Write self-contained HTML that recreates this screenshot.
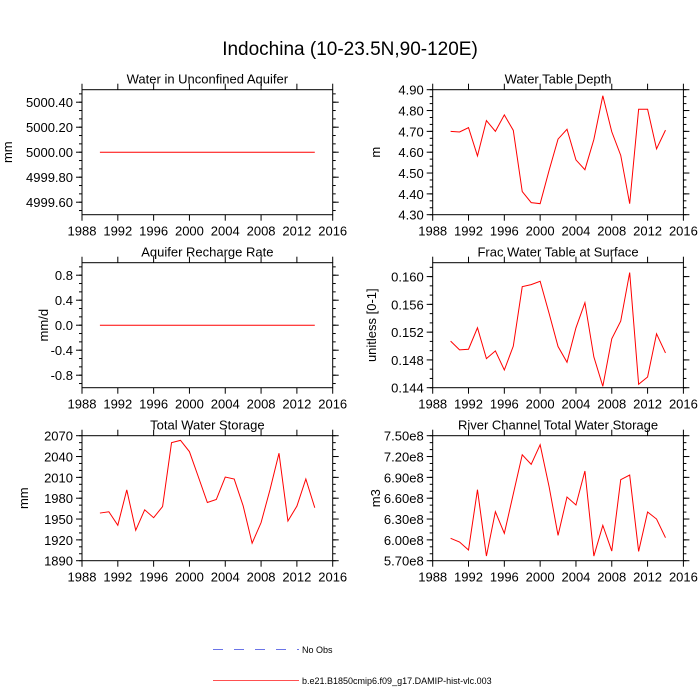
<!DOCTYPE html>
<html><head><meta charset="utf-8"><style>
html,body{margin:0;padding:0;background:#fff;}
svg{display:block;font-family:"Liberation Sans",sans-serif;}
</style></head><body>
<svg id="c" width="700" height="700" viewBox="0 0 700 700" xmlns="http://www.w3.org/2000/svg">
<text x="350" y="55" font-size="19" text-anchor="middle">Indochina (10-23.5N,90-120E)</text>
<g>
<line x1="213" y1="649.5" x2="299" y2="649.5" stroke="#6a74e8" stroke-width="1" stroke-dasharray="10,11"/>
<text x="302" y="653" font-size="9">No Obs</text>
<line x1="213" y1="680.5" x2="299" y2="680.5" stroke="#ff5050" stroke-width="1"/>
<text x="302" y="684" font-size="9">b.e21.B1850cmip6.f09_g17.DAMIP-hist-vlc.003</text>
</g>
</svg>
<script>
const years=[1990,1991,1992,1993,1994,1995,1996,1997,1998,1999,2000,2001,2002,2003,2004,2005,2006,2007,2008,2009,2010,2011,2012,2013,2014];
const xTicks=[1988,1992,1996,2000,2004,2008,2012,2016];
const aquiferValues=[5000,5000,5000,5000,5000,5000,5000,5000,5000,5000,5000,5000,5000,5000,5000,5000,5000,5000,5000,5000,5000,5000,5000,5000,5000];
const aquiferTickValues=[4999.6,4999.8,5000.0,5000.2,5000.4];
const aquiferTicks=["4999.60","4999.80","5000.00","5000.20","5000.40"];
const wtdValues=[4.70,4.697,4.718,4.582,4.752,4.70,4.779,4.705,4.411,4.358,4.353,4.513,4.663,4.71,4.563,4.516,4.661,4.871,4.698,4.585,4.353,4.806,4.806,4.616,4.706];
const wtdTickValues=[4.3,4.4,4.5,4.6,4.7,4.8,4.9];
const wtdTicks=["4.30","4.40","4.50","4.60","4.70","4.80","4.90"];
const rechargeValues=[0,0,0,0,0,0,0,0,0,0,0,0,0,0,0,0,0,0,0,0,0,0,0,0,0];
const rechargeTickValues=[-0.8,-0.4,0,0.4,0.8];
const rechargeTicks=["-0.8","-0.4","0.0","0.4","0.8"];
const fracValues=[0.1507,0.14945,0.14954,0.15263,0.14819,0.1493,0.14655,0.14998,0.15855,0.15884,0.15933,0.1547,0.14993,0.14766,0.15263,0.15624,0.14843,0.1442,0.15104,0.15359,0.16058,0.1445,0.14554,0.15176,0.14901];
const fracTickValues=[0.144,0.148,0.152,0.156,0.160];
const fracTicks=["0.144","0.148","0.152","0.156","0.160"];
const twsValues=[1958.6,1960.5,1941,1992,1933.8,1963.3,1951.9,1968,2060,2063.3,2047,2010.5,1973.8,1978.1,2010.5,2007.6,1969,1915.2,1944.8,1992.4,2044.8,1947.1,1968.6,2007.6,1966.2];
const twsTickValues=[1890,1920,1950,1980,2010,2040,2070];
const twsTicks=["1890","1920","1950","1980","2010","2040","2070"];
const riverValues=[6.022e8,5.969e8,5.854e8,6.722e8,5.767e8,6.406e8,6.094e8,6.66e8,7.226e8,7.087e8,7.37e8,6.766e8,6.065e8,6.617e8,6.502e8,6.991e8,5.767e8,6.209e8,5.839e8,6.866e8,6.934e8,5.834e8,6.401e8,6.30e8,6.031e8];
const riverTickValues=[5.7e8,6.0e8,6.3e8,6.6e8,6.9e8,7.2e8,7.5e8];
const riverTicks=["5.70e8","6.00e8","6.30e8","6.60e8","6.90e8","7.20e8","7.50e8"];

const svg=document.getElementById('c');
const NS='http://www.w3.org/2000/svg';
function mk(tag,attrs,parent){const e=document.createElementNS(NS,tag);for(const k in attrs)e.setAttribute(k,attrs[k]);(parent||svg).appendChild(e);return e;}

const panels=[
 {name:'aquifer',title:'Water in Unconfined Aquifer',ylab:'mm',x0:82,y0:89.7,vals:aquiferValues,tv:aquiferTickValues,ticks:aquiferTicks,min:4999.5,max:5000.5,ylx:12},
 {name:'water-table-depth',title:'Water Table Depth',ylab:'m',x0:432.7,y0:89.7,vals:wtdValues,tv:wtdTickValues,ticks:wtdTicks,min:4.30,max:4.90,ylx:380},
 {name:'recharge',title:'Aquifer Recharge Rate',ylab:'mm/d',x0:82,y0:262.7,vals:rechargeValues,tv:rechargeTickValues,ticks:rechargeTicks,min:-1,max:1,ylx:48},
 {name:'frac-water-table',title:'Frac Water Table at Surface',ylab:'unitless [0-1]',x0:432.7,y0:262.7,vals:fracValues,tv:fracTickValues,ticks:fracTicks,min:0.144,max:0.162,ylx:376},
 {name:'total-water-storage',title:'Total Water Storage',ylab:'mm',x0:82,y0:435.7,vals:twsValues,tv:twsTickValues,ticks:twsTicks,min:1890,max:2070,ylx:28},
 {name:'river-storage',title:'River Channel Total Water Storage',ylab:'m3',x0:432.7,y0:435.7,vals:riverValues,tv:riverTickValues,ticks:riverTicks,min:5.70e8,max:7.50e8,ylx:380}
];
const W=250.7,H=125;
panels.forEach(p=>{
 const g=mk('g',{});
 
 
 const xs=v=>p.x0+(v-1988)/(2016-1988)*W;
 const ys=v=>p.y0+H-(v-p.min)/(p.max-p.min)*H;
 const fr=mk('rect',{x:p.x0,y:p.y0,width:W,height:H,fill:'none',stroke:'#000','stroke-width':1},g);
 
 
 const t=mk('text',{x:p.x0+W/2,y:p.y0-6,'font-size':13,'text-anchor':'middle'},g);
 
 
 t.textContent=p.title;
 const yl=mk('text',{x:p.ylx,y:p.y0+H/2,'font-size':13,'text-anchor':'middle',transform:`rotate(-90 ${p.ylx} ${p.y0+H/2})`},g);
 
 
 yl.textContent=p.ylab;
 xTicks.forEach(yr=>{
  const x=xs(yr);
  mk('line',{x1:x,y1:p.y0+H,x2:x,y2:p.y0+H+6,stroke:'#000'},g);
  mk('line',{x1:x,y1:p.y0,x2:x,y2:p.y0-6,stroke:'#000'},g);
  const tl=mk('text',{x:x,y:p.y0+H+21,'font-size':13,'text-anchor':'middle'},g);
  
  
  tl.textContent=yr;
 });
 const tv=p.tv;
 const step=tv[1]-tv[0];
 for(let i=-3;i<=tv.length*3+3;i++){
  const v=tv[0]+i*step/3;
  if(v<p.min-step*1e-6||v>p.max+step*1e-6)continue;
  const y=ys(v);
  mk('line',{x1:p.x0,y1:y,x2:p.x0-3,y2:y,stroke:'#000'},g);
  mk('line',{x1:p.x0+W,y1:y,x2:p.x0+W+3,y2:y,stroke:'#000'},g);
 }
 tv.forEach((v,i)=>{
  const y=ys(v);
  mk('line',{x1:p.x0,y1:y,x2:p.x0-6,y2:y,stroke:'#000'},g);
  mk('line',{x1:p.x0+W,y1:y,x2:p.x0+W+6,y2:y,stroke:'#000'},g);
  const tl=mk('text',{x:p.x0-9,y:y+5,'font-size':13,'text-anchor':'end'},g);
  
  
  tl.textContent=p.ticks[i];
 });
 const d=p.vals.map((v,i)=>(i?'L':'M')+xs(years[i]).toFixed(2)+' '+ys(v).toFixed(2)).join(' ');
 const ln=mk('path',{d:d,fill:'none',stroke:'#ff0000','stroke-width':1},g);
 
 
});
</script>
</body></html>
